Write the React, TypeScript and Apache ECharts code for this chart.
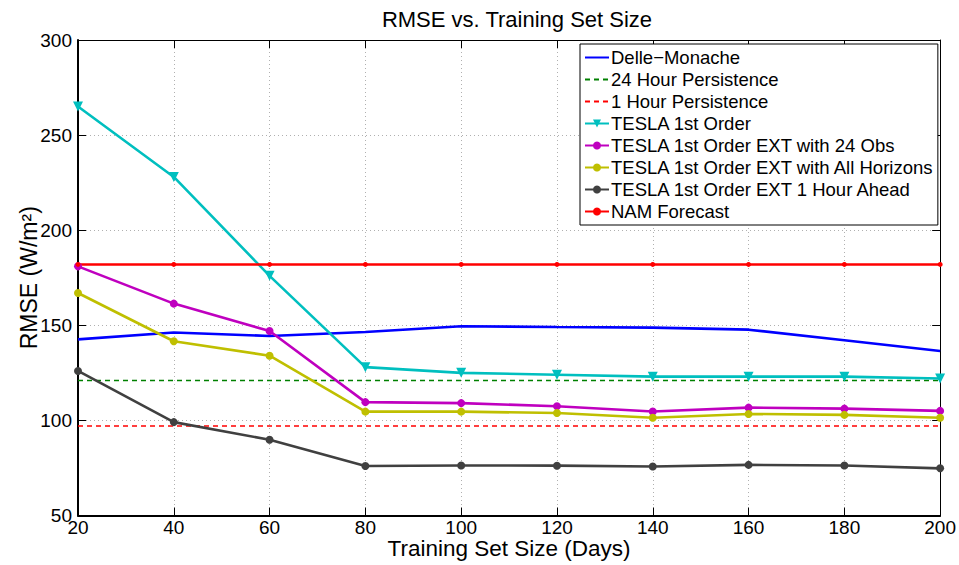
import React, { useEffect, useRef } from "react";
import * as echarts from "echarts";

const trainingDays = [20, 40, 60, 80, 100, 120, 140, 160, 180, 200];
const delleMonache = [142.6, 146.2, 144.4, 146.5, 149.5, 149.1, 148.8, 147.7, 142.1, 136.5];
const persistence24 = [121, 121, 121, 121, 121, 121, 121, 121, 121, 121];
const persistence1 = [97, 97, 97, 97, 97, 97, 97, 97, 97, 97];
const tesla1st = [265, 228, 176, 128, 125, 124, 123, 123, 123, 122];
const teslaExt24 = [181, 161.4, 147, 109.6, 109.1, 107.4, 104.7, 106.7, 106.2, 105];
const teslaExtAll = [167, 141.6, 134, 104.6, 104.6, 103.9, 101.4, 103.4, 102.9, 101.4];
const teslaExt1h = [126, 99.1, 89.8, 76, 76.3, 76.2, 75.8, 76.6, 76.3, 74.8];
const namForecast = [182, 182, 182, 182, 182, 182, 182, 182, 182, 182];
const yTicks = [50, 100, 150, 200, 250, 300];

const FONT = "Liberation Sans, Arial, Helvetica, sans-serif";

const NAMES = {
  delle: "Delle\u2212Monache",
  p24: "24 Hour Persistence",
  p1: "1 Hour Persistence",
  t1: "TESLA 1st Order",
  t24: "TESLA 1st Order EXT with 24 Obs",
  tAll: "TESLA 1st Order EXT with All Horizons",
  t1h: "TESLA 1st Order EXT 1 Hour Ahead",
  nam: "NAM Forecast",
};

function pairs(vals: number[]) {
  return trainingDays.map((d, i) => [d, vals[i]]);
}

export default function App() {
  const ref = useRef<HTMLDivElement>(null);
  useEffect(() => {
    if (!ref.current) return;
    const chart = echarts.init(ref.current, null, { renderer: "svg" });
    const gridLine = { show: true, lineStyle: { color: "#b0b0b0", type: [1, 3] as any, width: 1 } };
    const lineSeries = (name: string, vals: number[], color: string, extra: any = {}) => ({
      name,
      type: "line",
      data: pairs(vals),
      lineStyle: { color, width: 2.6, ...(extra.lineStyle || {}) },
      itemStyle: { color },
      symbol: extra.symbol ?? "none",
      symbolSize: extra.symbolSize ?? 8,
      symbolRotate: extra.symbolRotate ?? 0,
      showSymbol: extra.symbol ? true : false,
      emphasis: { disabled: true },
      z: extra.z ?? 2,
    });
    chart.setOption({
      animation: false,
      backgroundColor: "#ffffff",
      title: {
        text: "RMSE vs. Training Set Size",
        left: 512,
        textAlign: "center",
        top: 3,
        textStyle: { fontFamily: FONT, fontSize: 22, fontWeight: "normal", color: "#000" },
      },
      grid: { left: 78, right: 17, top: 40, bottom: 48, containLabel: false },
      legend: {
        orient: "vertical",
        left: 580,
        top: 44,
        backgroundColor: "#fff",
        borderColor: "#000",
        borderWidth: 1,
        borderRadius: 0,
        padding: [3, 3, 3, 4],
        itemGap: 1,
        itemWidth: 24,
        itemHeight: 10,
        textStyle: { fontFamily: FONT, fontSize: 18.5, color: "#000", padding: [0, 0, 0, -3], lineHeight: 21 },
        data: [
          { name: NAMES.delle, itemStyle: { opacity: 0 } },
          { name: NAMES.p24, itemStyle: { opacity: 0 } },
          { name: NAMES.p1, itemStyle: { opacity: 0 } },
          NAMES.t1,
          NAMES.t24,
          NAMES.tAll,
          NAMES.t1h,
          NAMES.nam,
        ],
      },
      xAxis: [
        {
          type: "value",
          min: 20,
          max: 200,
          interval: 20,
          name: "Training Set Size (Days)",
          nameLocation: "middle",
          nameGap: 22,
          nameMoveOverlap: false,
          nameTextStyle: { fontFamily: FONT, fontSize: 22.5, color: "#000", lineHeight: 22 },
          axisLine: { show: true, onZero: false, lineStyle: { color: "#000", width: 2 } },
          axisTick: { show: true, inside: true, length: 8, lineStyle: { color: "#000", width: 1 } },
          axisLabel: { fontFamily: FONT, fontSize: 19, color: "#000", margin: 2, lineHeight: 19 },
          splitLine: gridLine,
        },
        {
          type: "value",
          position: "top",
          min: 20,
          max: 200,
          interval: 20,
          axisLine: { show: true, onZero: false, lineStyle: { color: "#000", width: 1 } },
          axisTick: { show: true, inside: true, length: 8, lineStyle: { color: "#000" } },
          axisLabel: { show: false },
          splitLine: { show: false },
        },
      ],
      yAxis: [
        {
          type: "value",
          min: 50,
          max: 300,
          interval: 50,
          name: "RMSE (W/m\u00b2)",
          nameLocation: "middle",
          nameGap: 38,
          nameMoveOverlap: false,
          nameTextStyle: { fontFamily: FONT, fontSize: 23, color: "#000" },
          axisLine: { show: true, onZero: false, lineStyle: { color: "#000", width: 2 } },
          axisTick: { show: true, inside: true, length: 8, lineStyle: { color: "#000" } },
          axisLabel: {
            fontFamily: FONT,
            fontSize: 19,
            color: "#000",
            margin: 6,
            formatter: (v: number) => (yTicks.includes(v) ? String(v) : ""),
          },
          splitLine: gridLine,
        },
        {
          type: "value",
          position: "right",
          min: 50,
          max: 300,
          interval: 50,
          axisLine: { show: true, onZero: false, lineStyle: { color: "#000", width: 1 } },
          axisTick: { show: true, inside: true, length: 8, lineStyle: { color: "#000" } },
          axisLabel: { show: false },
          splitLine: { show: false },
        },
      ],
      series: [
        lineSeries(NAMES.delle, delleMonache, "#0000ff"),
        lineSeries(NAMES.p24, persistence24, "#008000", { lineStyle: { type: [5, 4], width: 1.5 } }),
        lineSeries(NAMES.p1, persistence1, "#ff0000", { lineStyle: { type: [5, 4], width: 1.5 } }),
        lineSeries(NAMES.t1, tesla1st, "#00bfbf", { symbol: "triangle", symbolSize: 10, symbolRotate: 180 }),
        lineSeries(NAMES.t24, teslaExt24, "#bf00bf", { symbol: "circle", symbolSize: 8 }),
        lineSeries(NAMES.tAll, teslaExtAll, "#bfbf00", { symbol: "circle", symbolSize: 8 }),
        lineSeries(NAMES.t1h, teslaExt1h, "#404040", { symbol: "circle", symbolSize: 8 }),
        lineSeries(NAMES.nam, namForecast, "#ff0000", { symbol: "circle", symbolSize: 5 }),
      ],
    });
    return () => chart.dispose();
  }, []);
  return <div ref={ref} style={{ width: 959, height: 565, position: "absolute", left: 0, top: 0 }} />;
}
